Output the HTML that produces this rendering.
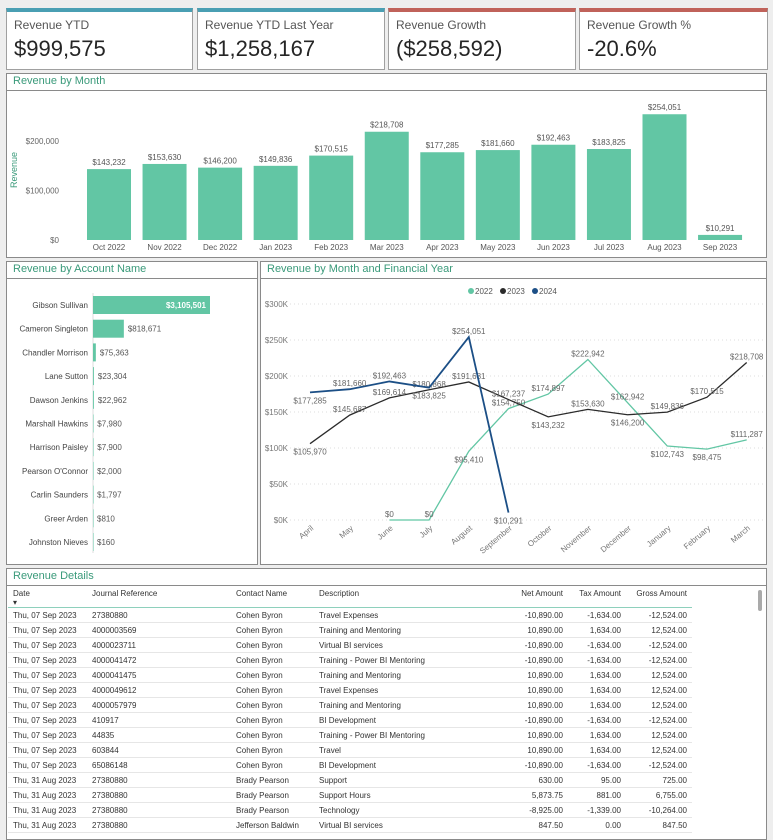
<!DOCTYPE html>
<html><head><meta charset="utf-8"><style>
body{margin:0;width:773px;height:824px;background:#eeeeee;font-family:"Liberation Sans",sans-serif;position:relative;overflow:hidden}
.card{position:absolute;top:8px;height:57px;background:#fff;border:1px solid #a0a0a0;border-top:4px solid #4a9fb3}
.card.red{border-top-color:#c0625a}
.card .t{position:absolute;left:7px;top:6px;font-size:12px;color:#555}
.card .v{position:absolute;left:7px;top:24px;font-size:22px;color:#252525}
.panel{position:absolute;background:#fff;border:1px solid #8a8a8a}
.ptitle{position:absolute;left:6px;top:1px;font-size:11px;color:#3a9a7a}
.psep{position:absolute;left:0;right:0;top:16px;border-top:1px solid #8a8a8a}
svg text{font-family:"Liberation Sans",sans-serif}
table{border-collapse:collapse;font-size:8px;color:#333;position:absolute;left:8px;top:589px}
td,th{height:14px;padding:0 5px;white-space:nowrap;border-bottom:1px solid #e6e6e6}
th{font-weight:normal;text-align:left;height:18px;vertical-align:top;border-bottom:1px solid #8ed0bc}
.r{text-align:right}
</style></head><body>
<div class="card" style="left:6px;width:185px"><div class="t">Revenue YTD</div><div class="v">$999,575</div></div>
<div class="card" style="left:197px;width:186px"><div class="t">Revenue YTD Last Year</div><div class="v">$1,258,167</div></div>
<div class="card red" style="left:388px;width:186px"><div class="t">Revenue Growth</div><div class="v">($258,592)</div></div>
<div class="card red" style="left:579px;width:187px"><div class="t">Revenue Growth %</div><div class="v">-20.6%</div></div>

<div class="panel" style="left:6px;top:73px;width:759px;height:183px"><div class="ptitle">Revenue by Month</div><div class="psep"></div></div>
<div class="panel" style="left:6px;top:261px;width:250px;height:302px"><div class="ptitle">Revenue by Account Name</div><div class="psep"></div></div>
<div class="panel" style="left:260px;top:261px;width:505px;height:302px"><div class="ptitle">Revenue by Month and Financial Year</div><div class="psep"></div></div>
<div class="panel" style="left:6px;top:568px;width:759px;height:270px"><div class="ptitle">Revenue Details</div><div class="psep"></div>
<div style="position:absolute;left:751px;top:21px;width:4px;height:21px;background:#aaa;border-radius:2px"></div></div>

<svg id="chart" width="773" height="824" style="position:absolute;left:0;top:0"></svg>

<table>
<tr><th style="width:69px">Date<br>▾</th><th style="width:134px">Journal Reference</th><th style="width:73px">Contact Name</th><th style="width:184px">Description</th><th class="r" style="width:50px">Net Amount</th><th class="r" style="width:48px">Tax Amount</th><th class="r" style="width:56px">Gross Amount</th></tr>
<tbody id="tb"></tbody></table>

<script>
const NS="http://www.w3.org/2000/svg";
const svg=document.getElementById('chart');
function mk(tag,attrs,txt){const e=document.createElementNS(NS,tag);for(const k in attrs)e.setAttribute(k,attrs[k]);if(txt!==undefined)e.textContent=txt;svg.appendChild(e);return e;}

const monthLabels=["Oct 2022","Nov 2022","Dec 2022","Jan 2023","Feb 2023","Mar 2023","Apr 2023","May 2023","Jun 2023","Jul 2023","Aug 2023","Sep 2023"];
const monthValues=[143232,153630,146200,149836,170515,218708,177285,181660,192463,183825,254051,10291];
const barTicks=[0,100000,200000];
const accountNames=["Gibson Sullivan","Cameron Singleton","Chandler Morrison","Lane Sutton","Dawson Jenkins","Marshall Hawkins","Harrison Paisley","Pearson O'Connor","Carlin Saunders","Greer Arden","Johnston Nieves"];
const accountValues=[3105501,818671,75363,23304,22962,7980,7900,2000,1797,810,160];
const fyMonths=["April","May","June","July","August","September","October","November","December","January","February","March"];
const s2022=[null,null,0,0,95410,154750,174897,222942,162942,102743,98475,111287];
const s2023=[105970,145687,169614,180868,191681,167237,143232,153630,146200,149836,170515,218708];
const s2024=[177285,181660,192463,183825,254051,10291,null,null,null,null,null,null];
const lineTicks=[0,50000,100000,150000,200000,250000,300000];

const fmt=v=>'$'+Math.round(v).toLocaleString('en-US');

const bx=i=>109+i*55.55, by=v=>240-v*0.000495;
barTicks.forEach(t=>{const e=mk('text',{x:59,y:by(t)+3,'font-size':8,fill:'#666','text-anchor':'end'},fmt(t));
});
const yt=mk('text',{x:17,y:170,'font-size':9,fill:'#3a9a7a','text-anchor':'middle',transform:'rotate(-90 17 170)'},'Revenue');

monthValues.forEach((v,i)=>{
 const r=mk('rect',{x:bx(i)-22,y:by(v),width:44,height:240-by(v),fill:'#62c6a4'});
 
 const l=mk('text',{x:bx(i),y:by(v)-4,'font-size':8,fill:'#555','text-anchor':'middle'},fmt(v));
 
 const c=mk('text',{x:bx(i),y:250,'font-size':8,fill:'#555','text-anchor':'middle'},monthLabels[i]);
 
});

const ay=i=>305+i*23.7, aw=v=>v/3105501*117;
mk('line',{x1:93,y1:293,x2:93,y2:553,stroke:'#ddd'});
accountValues.forEach((v,i)=>{
 const n=mk('text',{x:88,y:ay(i)+3,'font-size':8,fill:'#444','text-anchor':'end'},accountNames[i]);
 
 const r=mk('rect',{x:93,y:ay(i)-9,width:Math.max(aw(v),0.5),height:18,fill:'#62c6a4'});
 
 const inside=aw(v)>60;
 const l=mk('text',{x:inside?93+aw(v)-4:93+aw(v)+4,y:ay(i)+3,'font-size':8,fill:inside?'#fff':'#555','font-weight':inside?'bold':'normal','text-anchor':inside?'end':'start'},fmt(v));
 
});

const lx=i=>310+i*39.7, ly=v=>520-v*0.00072;
lineTicks.forEach(t=>{
 mk('line',{x1:290,y1:ly(t),x2:763,y2:ly(t),stroke:'#ddd','stroke-dasharray':'1,3'});
 const e=mk('text',{x:288,y:ly(t)+3,'font-size':8,fill:'#777','text-anchor':'end'},'$'+t/1000+'K');
 
});
fyMonths.forEach((m,i)=>{const x=lx(i)+4,y=529;
 const e=mk('text',{x:x,y:y,'font-size':8,fill:'#777','text-anchor':'end',transform:`rotate(-40 ${x} ${y})`},m);
 });
const series=[[s2022,'#62c6a4','2022'],[s2023,'#2b2b2b','2023'],[s2024,'#1c4f86','2024']];
series.forEach(([d,c,name],si)=>{
 let pts=[];d.forEach((v,i)=>{if(v!==null)pts.push(lx(i)+','+ly(v));});
 const p=mk('polyline',{points:pts.join(' '),fill:'none',stroke:c,'stroke-width':si==2?1.8:1.3});
 
 d.forEach((v,i)=>{if(v===null)return;
  const below=(si==1&&(i==0||i==6||i==8))||(si==0&&(i==4||i==9||i==10))||(si==2&&(i==0||i==3||i==5));
  const l=mk('text',{x:lx(i),y:below?ly(v)+11:ly(v)-3,'font-size':8,fill:'#666','text-anchor':'middle'},fmt(v));
  });
 const gx=471+si*32;
 const dot=mk('circle',{cx:gx,cy:291,r:3,fill:c});
 
 const lt=mk('text',{x:gx+4,y:294,'font-size':8,fill:'#555'},name);
 
});

const rows=[
["Thu, 07 Sep 2023","27380880","Cohen Byron","Travel Expenses","-10,890.00","-1,634.00","-12,524.00"],
["Thu, 07 Sep 2023","4000003569","Cohen Byron","Training and Mentoring","10,890.00","1,634.00","12,524.00"],
["Thu, 07 Sep 2023","4000023711","Cohen Byron","Virtual BI services","-10,890.00","-1,634.00","-12,524.00"],
["Thu, 07 Sep 2023","4000041472","Cohen Byron","Training - Power BI Mentoring","-10,890.00","-1,634.00","-12,524.00"],
["Thu, 07 Sep 2023","4000041475","Cohen Byron","Training and Mentoring","10,890.00","1,634.00","12,524.00"],
["Thu, 07 Sep 2023","4000049612","Cohen Byron","Travel Expenses","10,890.00","1,634.00","12,524.00"],
["Thu, 07 Sep 2023","4000057979","Cohen Byron","Training and Mentoring","10,890.00","1,634.00","12,524.00"],
["Thu, 07 Sep 2023","410917","Cohen Byron","BI Development","-10,890.00","-1,634.00","-12,524.00"],
["Thu, 07 Sep 2023","44835","Cohen Byron","Training - Power BI Mentoring","10,890.00","1,634.00","12,524.00"],
["Thu, 07 Sep 2023","603844","Cohen Byron","Travel","10,890.00","1,634.00","12,524.00"],
["Thu, 07 Sep 2023","65086148","Cohen Byron","BI Development","-10,890.00","-1,634.00","-12,524.00"],
["Thu, 31 Aug 2023","27380880","Brady Pearson","Support","630.00","95.00","725.00"],
["Thu, 31 Aug 2023","27380880","Brady Pearson","Support Hours","5,873.75","881.00","6,755.00"],
["Thu, 31 Aug 2023","27380880","Brady Pearson","Technology","-8,925.00","-1,339.00","-10,264.00"],
["Thu, 31 Aug 2023","27380880","Jefferson Baldwin","Virtual BI services","847.50","0.00","847.50"]];
const tb=document.getElementById('tb');
rows.forEach(r=>{const tr=document.createElement('tr');
 
 
 r.forEach((c,j)=>{const td=document.createElement('td');td.textContent=c;if(j>=4)td.className='r';tr.appendChild(td);});
 tb.appendChild(tr);});
</script>
</body></html>
